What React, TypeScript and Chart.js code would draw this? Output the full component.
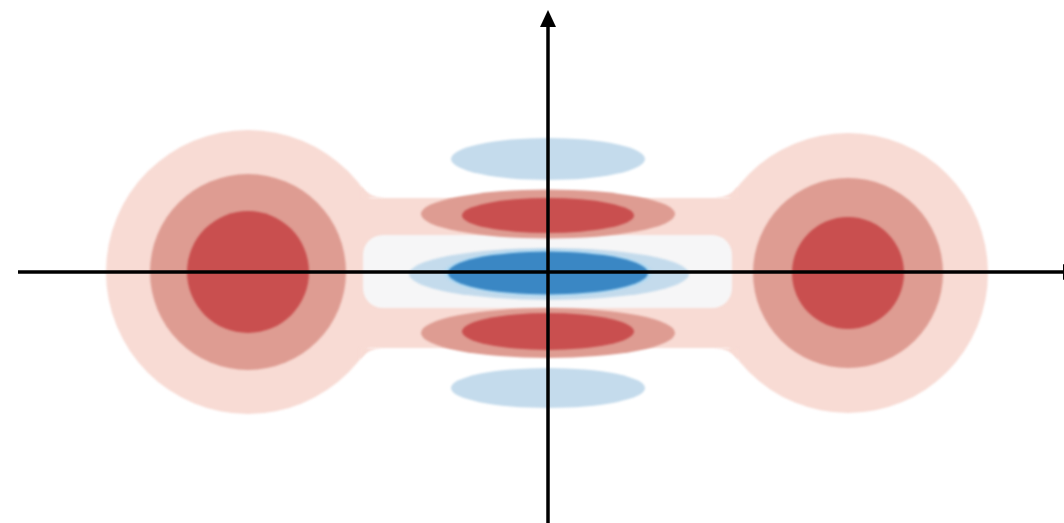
import { useEffect, useRef } from 'react';
import { Chart, registerables } from 'chart.js';

Chart.register(...registerables);

// Plot window (data units)
const xRange = [-5.47, 5.17];
const yRange = [-2.51, 2.72];

// Two round lobes at the ends of the dumbbell: outer, middle and core levels
const lobeCentreX = [-2.99, 3.01];
const lobeCentreY = [0.0, -0.01];
const lobeOuterR = [1.42, 1.4];
const lobeMidR = [0.98, 0.95];
const lobeCoreR = [0.61, 0.56];

// Neck joining the lobes, and the near-zero gap inside it
const neckCentreY = -0.01;
const neckHalfHeight = 0.75;
const neckFilletR = 0.3;
const gapX = [-1.84, 1.85];
const gapY = [-0.36, 0.37];
const gapCorner = 0.2;

// Elliptical bands around the centre: x, y, half-width, half-height
const outerBlueBands = [
  { x: 0.01, y: 1.13, rx: 0.97, ry: 0.21 },
  { x: 0.01, y: -1.16, rx: 0.97, ry: 0.2 },
];
const redBands = [
  { x: 0.01, y: 0.58, rx: 1.27, ry: 0.245 },
  { x: 0.01, y: -0.61, rx: 1.27, ry: 0.25 },
];
const redCores = [
  { x: 0.01, y: 0.565, rx: 0.86, ry: 0.175 },
  { x: 0.01, y: -0.595, rx: 0.86, ry: 0.185 },
];
const blueBand = [{ x: 0.02, y: -0.02, rx: 1.4, ry: 0.26 }];
const blueRim = [{ x: 0.01, y: -0.01, rx: 1.04, ry: 0.235 }];
const blueCore = [{ x: 0.01, y: -0.01, rx: 1.0, ry: 0.215 }];

// Axis crossing and extent
const axisOrigin = [0.01, 0];
const xAxisStart = -5.29;
const xAxisTip = 5.33;
const yAxisTip = 2.62;

const COLORS = {
  pale: '#f8dbd4',
  mid: '#de9c92',
  dark: '#c94f4f',
  gap: '#f6f6f7',
  lightBlue: '#c4dbec',
  rimBlue: '#b3daf2',
  darkBlue: '#3a87c4',
};

const contourPlugin = {
  id: 'contourFill',
  beforeDatasetsDraw(chart: any) {
    const { ctx, scales } = chart;
    const sx = scales.x;
    const sy = scales.y;
    const px = (v: number) => sx.getPixelForValue(v);
    const py = (v: number) => sy.getPixelForValue(v);
    const kx = Math.abs(px(1) - px(0));
    const ky = Math.abs(py(1) - py(0));

    const ellipse = (x: number, y: number, rx: number, ry: number, color: string) => {
      ctx.beginPath();
      ctx.ellipse(px(x), py(y), rx * kx, ry * ky, 0, 0, Math.PI * 2);
      ctx.fillStyle = color;
      ctx.fill();
    };

    ctx.save();
    ctx.filter = 'blur(0.8px)';

    // Outer pale level: lobes + neck + fillets
    lobeCentreX.forEach((cx, i) => ellipse(cx, lobeCentreY[i], lobeOuterR[i], lobeOuterR[i], COLORS.pale));
    ctx.fillStyle = COLORS.pale;
    ctx.fillRect(
      px(lobeCentreX[0]),
      py(neckCentreY + neckHalfHeight),
      px(lobeCentreX[1]) - px(lobeCentreX[0]),
      py(neckCentreY - neckHalfHeight) - py(neckCentreY + neckHalfHeight)
    );
    [0, 1].forEach((i) => {
      const side = i === 0 ? -1 : 1;
      const c = lobeCentreX[i];
      const yc = lobeCentreY[i];
      const R = lobeOuterR[i];
      [1, -1].forEach((vs) => {
        const fcy = neckCentreY + vs * (neckHalfHeight + neckFilletR);
        const dy = fcy - yc;
        const d = R + neckFilletR;
        const dx = Math.sqrt(d * d - dy * dy);
        const fcx = c - side * dx;
        const lineY = neckCentreY + vs * neckHalfHeight;
        const tx = c + ((fcx - c) * R) / d;
        const ty = yc + (dy * R) / d;
        const Px = px(fcx);
        const Py = py(fcy);
        const a1 = Math.atan2(py(ty) - Py, px(tx) - Px);
        const a2 = Math.atan2(py(lineY) - Py, px(fcx) - Px);
        let diff = a2 - a1;
        while (diff > Math.PI) diff -= Math.PI * 2;
        while (diff <= -Math.PI) diff += Math.PI * 2;
        ctx.beginPath();
        ctx.moveTo(px(fcx), py(lineY));
        ctx.lineTo(px(tx), py(lineY));
        ctx.lineTo(px(tx), py(ty));
        ctx.arc(Px, Py, neckFilletR * kx, a1, a2, diff < 0);
        ctx.closePath();
        ctx.fillStyle = COLORS.pale;
        ctx.fill();
      });
    });

    // Near-zero gap inside the neck
    ctx.beginPath();
    ctx.roundRect(
      px(gapX[0]),
      py(gapY[1]),
      px(gapX[1]) - px(gapX[0]),
      py(gapY[0]) - py(gapY[1]),
      gapCorner * kx
    );
    ctx.fillStyle = COLORS.gap;
    ctx.fill();

    // Lobe inner levels
    lobeCentreX.forEach((cx, i) => ellipse(cx, lobeCentreY[i], lobeMidR[i], lobeMidR[i], COLORS.mid));
    lobeCentreX.forEach((cx, i) => ellipse(cx, lobeCentreY[i], lobeCoreR[i], lobeCoreR[i], COLORS.dark));

    // Central bands
    outerBlueBands.forEach((e) => ellipse(e.x, e.y, e.rx, e.ry, COLORS.lightBlue));
    redBands.forEach((e) => ellipse(e.x, e.y, e.rx, e.ry, COLORS.mid));
    redCores.forEach((e) => ellipse(e.x, e.y, e.rx, e.ry, COLORS.dark));
    blueBand.forEach((e) => ellipse(e.x, e.y, e.rx, e.ry, COLORS.lightBlue));
    blueRim.forEach((e) => ellipse(e.x, e.y, e.rx, e.ry, COLORS.rimBlue));
    blueCore.forEach((e) => ellipse(e.x, e.y, e.rx, e.ry, COLORS.darkBlue));

    ctx.restore();
  },
  afterDraw(chart: any) {
    const { ctx, scales } = chart;
    const px = (v: number) => scales.x.getPixelForValue(v);
    const py = (v: number) => scales.y.getPixelForValue(v);
    const ox = px(axisOrigin[0]);
    const oy = py(axisOrigin[1]);
    const head = 17;
    const half = 8;
    ctx.save();
    ctx.strokeStyle = '#000';
    ctx.fillStyle = '#000';
    ctx.lineWidth = 3.5;

    // horizontal axis
    const hx = px(xAxisTip);
    ctx.beginPath();
    ctx.moveTo(px(xAxisStart), oy);
    ctx.lineTo(hx - head, oy);
    ctx.stroke();
    ctx.beginPath();
    ctx.moveTo(hx, oy);
    ctx.lineTo(hx - head, oy - half);
    ctx.lineTo(hx - head, oy + half);
    ctx.closePath();
    ctx.fill();

    // vertical axis
    const vy = py(yAxisTip);
    ctx.beginPath();
    ctx.moveTo(ox, chart.height);
    ctx.lineTo(ox, vy + head);
    ctx.stroke();
    ctx.beginPath();
    ctx.moveTo(ox, vy);
    ctx.lineTo(ox - half, vy + head);
    ctx.lineTo(ox + half, vy + head);
    ctx.closePath();
    ctx.fill();
    ctx.restore();
  },
};

export default function App() {
  const canvasRef = useRef<HTMLCanvasElement | null>(null);

  useEffect(() => {
    if (!canvasRef.current) return;
    const centres = [
      ...outerBlueBands,
      ...redBands,
      ...blueBand,
      ...lobeCentreX.map((x, i) => ({ x, y: lobeCentreY[i] })),
    ].map((e) => ({ x: e.x, y: e.y }));
    const chart = new Chart(canvasRef.current, {
      type: 'scatter',
      data: {
        datasets: [
          {
            label: 'centres',
            data: centres,
            pointRadius: 0,
            pointHoverRadius: 0,
          },
        ],
      },
      options: {
        animation: false,
        responsive: false,
        events: [],
        layout: { padding: 0 },
        plugins: { legend: { display: false }, tooltip: { enabled: false } },
        scales: {
          x: { type: 'linear', min: xRange[0], max: xRange[1], display: false },
          y: { type: 'linear', min: yRange[0], max: yRange[1], display: false },
        },
      },
      plugins: [contourPlugin],
    });
    return () => chart.destroy();
  }, []);

  return (
    <div style={{ position: 'absolute', left: 0, top: 0, width: 1064, height: 523, background: '#fff' }}>
      <canvas ref={canvasRef} width={1064} height={523} style={{ display: 'block' }} />
    </div>
  );
}
